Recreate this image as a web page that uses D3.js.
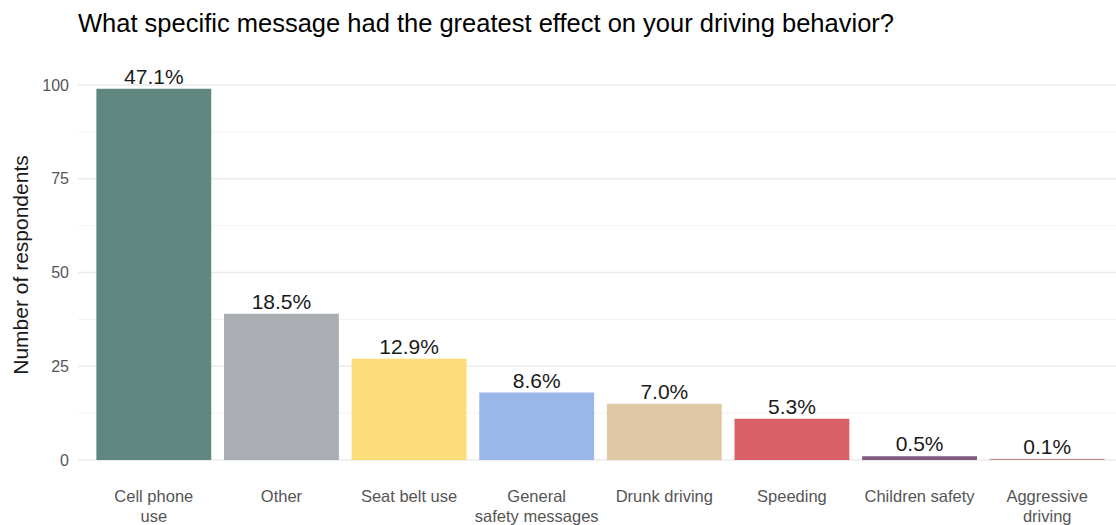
<!DOCTYPE html>
<html><head><meta charset="utf-8">
<script src="https://cdn.jsdelivr.net/npm/d3@7"></script>
<style>body{margin:0;background:#fff;font-family:"Liberation Sans",Arial,sans-serif;}</style>
</head><body>
<svg id="c" width="1116" height="525"></svg>
<script>
const categories = ["Cell phone\nuse","Other","Seat belt use","General\nsafety messages","Drunk driving","Speeding","Children safety","Aggressive\ndriving"];
const counts = [99, 39, 27, 18, 15, 11, 1, 0.3];
const pctLabels = ["47.1%","18.5%","12.9%","8.6%","7.0%","5.3%","0.5%","0.1%"];
const colors = ["#5f877f","#aaadb2","#fddc7a","#9bb7ea","#e0c8a6","#d95f69","#7d5a80","#c98a7e"];
const yTicks = [0,25,50,75,100];
const yMinor = [12.5,37.5,62.5,87.5];

const svg = d3.select("#c");
const x = d3.scaleBand().domain(categories).range([90,1111]).paddingInner(0.1).paddingOuter(0.05);
const y = d3.scaleLinear().domain([0,100]).range([460,85]);

// grid
svg.append("g").selectAll("line").data(yMinor).join("line")
  .attr("x1",78).attr("x2",1116).attr("y1",d=>y(d)).attr("y2",d=>y(d))
  .attr("stroke","#f2f2f2").attr("stroke-width",1);
svg.append("g").selectAll("line").data(yTicks).join("line")
  .attr("x1",78).attr("x2",1116).attr("y1",d=>y(d)).attr("y2",d=>y(d))
  .attr("stroke","#ebebeb").attr("stroke-width",1.5);

// y axis
const ya = svg.append("g").attr("transform","translate(78,0)")
  .call(d3.axisLeft(y).tickValues(yTicks).tickSize(0).tickPadding(9));
ya.select(".domain").remove();
ya.selectAll("text").attr("fill","#555").style("font-size","16px").style("font-family","Liberation Sans, Arial, sans-serif");

// bars
svg.append("g").selectAll("rect").data(categories).join("rect")
  .attr("x",d=>x(d)).attr("width",x.bandwidth())
  .attr("y",(d,i)=>y(counts[i])).attr("height",(d,i)=>y(0)-y(counts[i]))
  .attr("fill",(d,i)=>colors[i]);

// percentage labels
svg.append("g").selectAll("text").data(categories).join("text")
  .attr("x",d=>x(d)+x.bandwidth()/2).attr("y",(d,i)=>y(counts[i])-5)
  .attr("text-anchor","middle").attr("fill","#1a1a1a").style("font-size","21px")
  .text((d,i)=>pctLabels[i]);

// x axis labels
const xa = svg.append("g");
categories.forEach(c=>{
  const t = xa.append("text").attr("x",x(c)+x.bandwidth()/2).attr("y",502)
    .attr("text-anchor","middle").attr("fill","#555").style("font-size","16.5px");
  c.split("\n").forEach((line,j)=>{
    t.append("tspan").attr("x",x(c)+x.bandwidth()/2).attr("dy",j===0?0:20).text(line);
  });
});

// y title
svg.append("text").attr("transform","translate(28,265) rotate(-90)")
  .attr("text-anchor","middle").attr("fill","#1a1a1a").style("font-size","21px")
  .text("Number of respondents");

// title
svg.append("text").attr("x",78).attr("y",32).attr("fill","#000").style("font-size","25.5px")
  .text("What specific message had the greatest effect on your driving behavior?");
</script>
</body></html>
